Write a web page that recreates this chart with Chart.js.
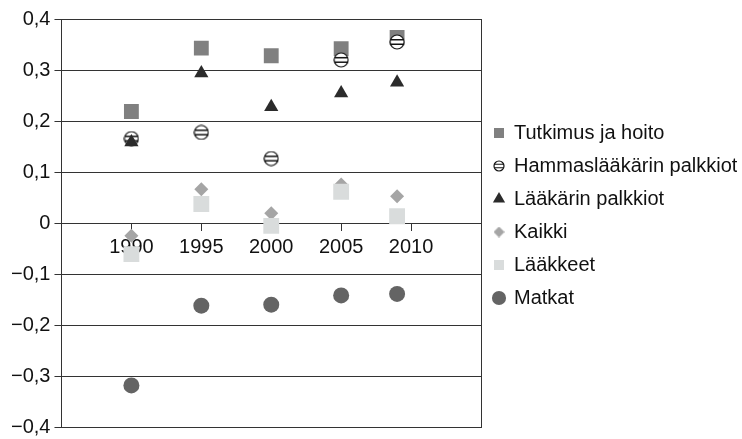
<!DOCTYPE html>
<html lang="fi">
<head>
<meta charset="utf-8">
<script src="https://cdn.jsdelivr.net/npm/chart.js@4.4.1/dist/chart.umd.min.js"></script>
<style>
  html, body { margin: 0; padding: 0; background: #fff; }
  #wrap { width: 742px; height: 439px; }
</style>
</head>
<body>
<div id="wrap"><canvas id="kuvio"></canvas></div>
<script>
const vuodet = [1990, 1995, 2000, 2005, 2009];
const xTicks = [1990, 1995, 2000, 2005, 2010];
const yTicks = [-0.4, -0.3, -0.2, -0.1, 0, 0.1, 0.2, 0.3, 0.4];

const tutkimus = [0.219, 0.343, 0.328, 0.342, 0.364];
const hammas   = [0.166, 0.178, 0.127, 0.320, 0.355];
const laakarin = [0.159, 0.294, 0.228, 0.255, 0.276];
const kaikki   = [-0.024, 0.067, 0.020, 0.076, 0.053];
const laakkeet = [-0.060, 0.038, -0.005, 0.062, 0.014];
const matkat   = [-0.317, -0.161, -0.159, -0.141, -0.138];

const FONT = "'Liberation Sans', Arial, sans-serif";
const SELITE_LEVEYS = 256;
const SELITE_NOSTO = 9;

// raidallinen ympyrä (⊖) hammaslääkärin palkkioille
function raitapallo(d) {
    const c = document.createElement('canvas');
    c.width = d; c.height = d;
    const g = c.getContext('2d');
    const r = d / 2 - 1;
    const m = d / 2;
    g.beginPath();
    g.arc(m, m, r, 0, Math.PI * 2);
    g.fillStyle = '#fff';
    g.fill();
    g.save();
    g.clip();
    g.strokeStyle = '#111';
    g.lineWidth = d > 12 ? 1.4 : 1.1;
    const gap = d > 12 ? 2.2 : 1.7;
    [m - gap, m + gap].forEach(y => {
        g.beginPath();
        g.moveTo(0, y);
        g.lineTo(d, y);
        g.stroke();
    });
    g.restore();
    g.beginPath();
    g.arc(m, m, r, 0, Math.PI * 2);
    g.lineWidth = 1.2;
    g.strokeStyle = '#111';
    g.stroke();
    return c;
}

// pieni vinoneliö selitteeseen
function vinoneliö(d, vari) {
    const c = document.createElement('canvas');
    c.width = d; c.height = d;
    const g = c.getContext('2d');
    const m = d / 2;
    g.beginPath();
    g.moveTo(m, 0);
    g.lineTo(d, m);
    g.lineTo(m, d);
    g.lineTo(0, m);
    g.closePath();
    g.fillStyle = vari;
    g.fill();
    return c;
}

const pallo = raitapallo(16);
const palloPieni = raitapallo(12);
const vinoPieni = vinoneliö(11, '#a5a5a5');

const pisteet = arr => arr.map((v, i) => ({ x: vuodet[i], y: v }));

const sarjat = [
    { label: 'Tutkimus ja hoito', data: pisteet(tutkimus), pointStyle: 'rect', pointRadius: 10.5, backgroundColor: '#808080' },
    { label: 'Hammaslääkärin palkkiot', data: pisteet(hammas), pointStyle: pallo, pointRadius: 8, backgroundColor: '#fff', borderColor: '#111' },
    { label: 'Lääkärin palkkiot', data: pisteet(laakarin), pointStyle: 'triangle', pointRadius: 8.2, backgroundColor: '#2b2b2b' },
    { label: 'Kaikki', data: pisteet(kaikki), pointStyle: 'rectRot', pointRadius: 7, backgroundColor: '#a5a5a5' },
    { label: 'Lääkkeet', data: pisteet(laakkeet), pointStyle: 'rect', pointRadius: 11.2, backgroundColor: '#d9dcdc' },
    { label: 'Matkat', data: pisteet(matkat), pointStyle: 'circle', pointRadius: 8, backgroundColor: '#646464' }
].map((s, i, all) => ({
    ...s,
    borderColor: s.borderColor || s.backgroundColor,
    borderWidth: 0,
    pointBorderWidth: 0,
    showLine: false,
    order: all.length - i   // myöhempi sarja piirretään päälle
}));

const muotoile = v => {
    const r = Math.round(v * 10) / 10;
    if (r === 0) return '0';
    return r.toFixed(1).replace('.', ',').replace('-', '\u2212');
};

// oikean reunan selite saa olla leveämpi kuin Chart.js oletuksena sallii
const leveaSelite = {
    id: 'leveaSelite',
    beforeLayout(chart) {
        const lg = chart.legend;
        if (lg && !lg._levea) {
            const fit = lg.fit;
            lg.fit = function () {
                fit.call(this);
                this.width = SELITE_LEVEYS;
            };
            lg._levea = true;
        }
    },
    afterLayout(chart) {
        const lg = chart.legend;
        if (lg) {
            lg.top -= SELITE_NOSTO;
            lg.bottom -= SELITE_NOSTO;
        }
    }
};

new Chart(document.getElementById('kuvio'), {
    type: 'scatter',
    data: { datasets: sarjat },
    options: {
        responsive: true,
        maintainAspectRatio: false,
        animation: false,
        layout: { padding: { top: 19, right: 5, bottom: 9, left: 7 } },
        plugins: {
            tooltip: { enabled: false },
            legend: {
                position: 'right',
                labels: {
                    usePointStyle: true,
                    boxWidth: 10,
                    boxHeight: 10,
                    padding: 13,
                    color: '#111',
                    font: { family: FONT, size: 20 },
                    sort: (a, b) => a.datasetIndex - b.datasetIndex,
                    generateLabels: chart => {
                        const items = Chart.defaults.plugins.legend.labels.generateLabels(chart);
                        items.forEach(it => {
                            if (it.datasetIndex === 1) it.pointStyle = palloPieni;
                            if (it.datasetIndex === 3) it.pointStyle = vinoPieni;
                            it.lineWidth = 0;
                        });
                        return items;
                    }
                }
            }
        },
        scales: {
            x: {
                type: 'linear',
                position: { y: 0 },
                min: 1985,
                max: 2015,
                z: 1,
                afterBuildTicks: s => { s.ticks = xTicks.map(v => ({ value: v })); },
                ticks: {
                    color: '#111',
                    padding: 5,
                    maxRotation: 0,
                    font: { family: FONT, size: 20 },
                    callback: v => String(v)
                },
                grid: { drawOnChartArea: false, drawTicks: true, tickLength: 7, color: '#333' },
                border: { display: true, color: '#333', width: 1 }
            },
            y: {
                min: -0.4,
                max: 0.4,
                afterBuildTicks: s => { s.ticks = yTicks.map(v => ({ value: v })); },
                ticks: {
                    color: '#111',
                    padding: 4,
                    font: { family: FONT, size: 20, lineHeight: 0.5 },
                    callback: muotoile
                },
                grid: { color: '#333', lineWidth: 1, tickLength: 7 },
                border: { display: true, color: '#333', width: 1 }
            },
            y2: {
                position: 'right',
                min: -0.4,
                max: 0.4,
                ticks: { display: false },
                grid: { display: false, drawTicks: false },
                border: { display: true, color: '#333', width: 1 }
            }
        }
    },
    plugins: [leveaSelite]
});
</script>
</body>
</html>
